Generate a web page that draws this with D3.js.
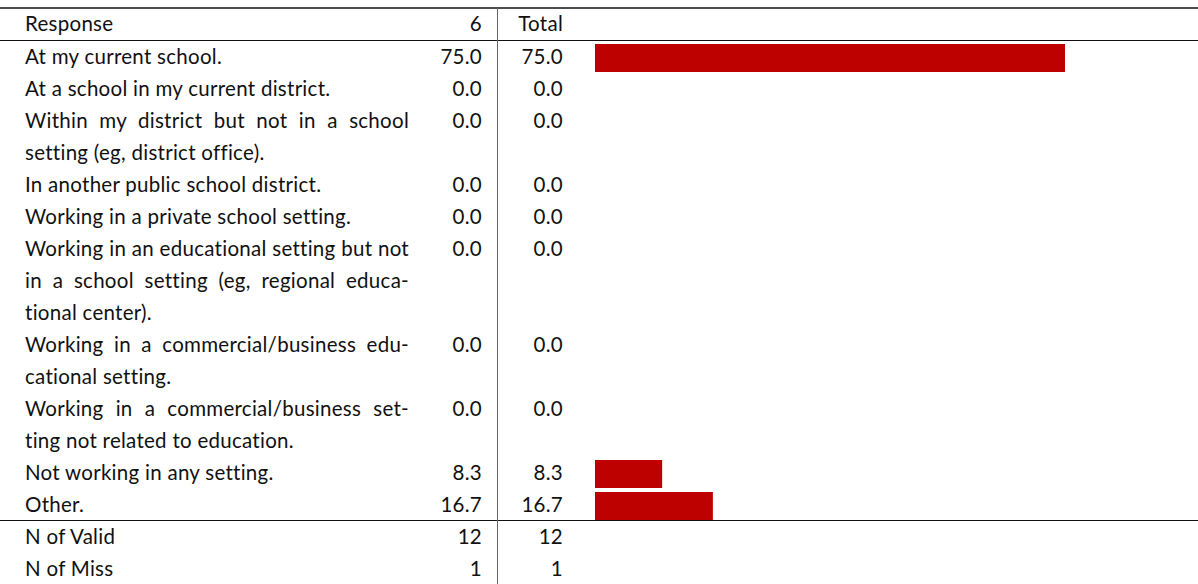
<!DOCTYPE html>
<html>
<head>
<meta charset="utf-8">
<script src="https://cdn.jsdelivr.net/npm/d3@7"></script>
<style>
  body { margin: 0; background: #fff; }
  svg text { font-family: Lato, "DejaVu Sans", sans-serif; font-size: 20.5px; fill: #111; }
</style>
</head>
<body>
<svg id="chart" width="1198" height="584"></svg>
<script>
const headers = ['Response', '6', 'Total'];

// each label is split into the lines it is typeset on
const labels = [
  ['At my current school.'],
  ['At a school in my current district.'],
  ['Within my district but not in a school', 'setting (eg, district office).'],
  ['In another public school district.'],
  ['Working in a private school setting.'],
  ['Working in an educational setting but not', 'in a school setting (eg, regional educa-', 'tional center).'],
  ['Working in a commercial/business edu-', 'cational setting.'],
  ['Working in a commercial/business set-', 'ting not related to education.'],
  ['Not working in any setting.'],
  ['Other.']
];
const col6 = [75.0, 0.0, 0.0, 0.0, 0.0, 0.0, 0.0, 0.0, 8.3, 16.7];
const colTotal = [75.0, 0.0, 0.0, 0.0, 0.0, 0.0, 0.0, 0.0, 8.3, 16.7];

const footLabels = ['N of Valid', 'N of Miss'];
const foot6 = [12, 1];
const footTotal = [12, 1];

const W = 1198, H = 584;
const lineH = 32;
const topRule = 8, headRule = 40.5;
const textX = 25, textW = 384;
const col6X = 482, vLineX = 497.5, totX = 563;
const barX0 = 595;

const svg = d3.select('#chart');

// match the set width of the original sans face: tune letter spacing on a known line
const probeText = 'Working in an educational setting but not';
const probe = svg.append('text').text(probeText);
const probeW = probe.node().getComputedTextLength();
const ls = (383 - probeW) / probeText.length;
probe.remove();
svg.style('letter-spacing', ls + 'px');

// bars
const xScale = d3.scaleLinear().domain([0, 75]).range([17, 470]);

// row layout
let cursor = headRule + 0.5;
const rows = labels.map((lines, i) => {
  const r = { lines, v6: col6[i], vt: colTotal[i], y: cursor };
  cursor += lines.length * lineH;
  return r;
});
const bodyEnd = cursor;

// rules
svg.append('line').attr('x1', 0).attr('x2', W).attr('y1', topRule).attr('y2', topRule)
  .attr('stroke', '#111').attr('stroke-width', 1.4);
svg.append('line').attr('x1', 0).attr('x2', W).attr('y1', headRule).attr('y2', headRule)
  .attr('stroke', '#111').attr('stroke-width', 1);
svg.append('line').attr('x1', 0).attr('x2', W).attr('y1', bodyEnd - 0.5).attr('y2', bodyEnd - 0.5)
  .attr('stroke', '#111').attr('stroke-width', 1);
svg.append('line').attr('x1', vLineX).attr('x2', vLineX).attr('y1', topRule).attr('y2', H)
  .attr('stroke', '#666').attr('stroke-width', 1);

// header
const hy = 24;
svg.append('text').attr('x', textX).attr('y', hy).attr('dy', '0.35em').text(headers[0]);
svg.append('text').attr('x', col6X).attr('y', hy).attr('dy', '0.35em').attr('text-anchor', 'end').text(headers[1]);
svg.append('text').attr('x', totX).attr('y', hy).attr('dy', '0.35em').attr('text-anchor', 'end').text(headers[2]);

const g = svg.selectAll('g.row').data(rows).enter().append('g').attr('class', 'row');

g.each(function(d) {
  const sel = d3.select(this);
  d.lines.forEach((ln, j) => {
    const t = sel.append('text')
      .attr('x', textX)
      .attr('y', d.y + 16 + j * lineH)
      .attr('dy', '0.35em')
      .text(ln);
    // justify every line of a wrapped label except the last
    if (d.lines.length > 1 && j < d.lines.length - 1) {
      const w = t.node().getComputedTextLength();
      const spaces = (ln.match(/ /g) || []).length;
      if (spaces > 0) t.attr('word-spacing', Math.max(0, textW - w) / spaces);
    }
  });
  sel.append('text').attr('x', col6X).attr('y', d.y + 16).attr('dy', '0.35em')
    .attr('text-anchor', 'end').text(d.v6.toFixed(1));
  sel.append('text').attr('x', totX).attr('y', d.y + 16).attr('dy', '0.35em')
    .attr('text-anchor', 'end').text(d.vt.toFixed(1));
  if (d.vt > 0) {
    sel.append('rect')
      .attr('x', barX0)
      .attr('y', d.y + 3)
      .attr('width', xScale(d.vt))
      .attr('height', 28)
      .attr('fill', '#bd0000');
  }
});

// footer rows
footLabels.forEach((lab, i) => {
  const y = bodyEnd + 16 + i * lineH;
  svg.append('text').attr('x', textX).attr('y', y).attr('dy', '0.35em').text(lab);
  svg.append('text').attr('x', col6X).attr('y', y).attr('dy', '0.35em').attr('text-anchor', 'end').text(foot6[i]);
  svg.append('text').attr('x', totX).attr('y', y).attr('dy', '0.35em').attr('text-anchor', 'end').text(footTotal[i]);
});
</script>
</body>
</html>
